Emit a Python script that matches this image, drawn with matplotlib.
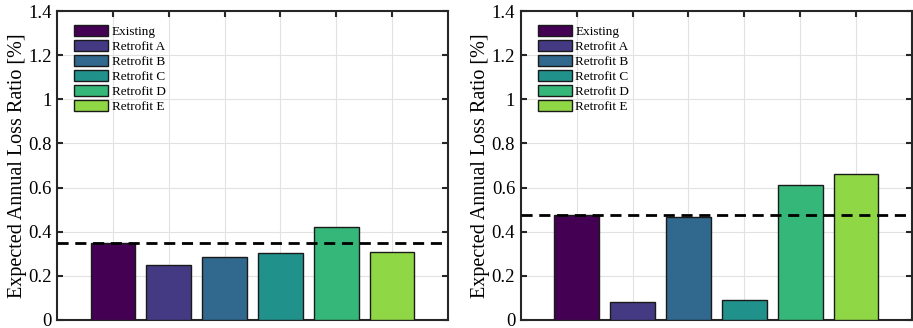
import matplotlib
matplotlib.use("Agg")
import matplotlib.pyplot as plt
from matplotlib.ticker import FormatStrFormatter

plt.rcParams['font.family'] = ['Liberation Serif', 'DejaVu Serif']

# Expected annual loss ratios [%] for each scheme, two sites
schemes = ['Existing', 'Retrofit A', 'Retrofit B', 'Retrofit C', 'Retrofit D', 'Retrofit E']
eal_left = [0.347, 0.248, 0.284, 0.305, 0.423, 0.309]
eal_right = [0.474, 0.082, 0.468, 0.089, 0.610, 0.661]
colors = ['#440154', '#443983', '#31688e', '#21918c', '#35b779', '#8fd744']
yticks = [0, 0.2, 0.4, 0.6, 0.8, 1.0, 1.2, 1.4]

fig = plt.figure(figsize=(9.13, 3.28), dpi=100)
ax_l = fig.add_axes([57 / 913, 8 / 328, 391 / 913, 309 / 328])
ax_r = fig.add_axes([520.7 / 913, 8 / 328, 391.3 / 913, 309 / 328])


def draw_panel(ax, vals):
    xs = range(1, len(vals) + 1)
    for x, v, c, name in zip(xs, vals, colors, schemes):
        ax.bar(x, v, width=0.8, color=c, edgecolor='#1a1a1a', linewidth=1.0,
               label=name, zorder=3)
    # baseline = existing building
    ax.axhline(vals[0], color='black', linestyle='--', linewidth=2,
               dashes=(4, 2.4), zorder=4)

    ax.set_xlim(0, 7)
    ax.set_ylim(0, 1.4)
    ax.set_xticks(list(xs))
    ax.set_xticklabels([])
    ax.set_yticks(yticks)
    ax.yaxis.set_major_formatter(FormatStrFormatter('%g'))
    ax.tick_params(direction='in', top=True, right=True, length=4, width=1.5,
                   color='#262626', labelsize=13.5, pad=4)
    ax.grid(True, color='#e2e2e2', linewidth=0.8, zorder=0)
    ax.set_axisbelow(True)
    for s in ax.spines.values():
        s.set_linewidth(1.5)
        s.set_color('#262626')
    ax.set_ylabel('Expected Annual Loss Ratio [%]', fontsize=14.5, labelpad=1)

    ax.legend(loc='upper left', bbox_to_anchor=(0.0435, 0.955), frameon=False,
              fontsize=9.5, handlelength=2.6, handleheight=0.95,
              handletextpad=0.25, labelspacing=0.13, borderaxespad=0,
              borderpad=0)


draw_panel(ax_l, eal_left)
draw_panel(ax_r, eal_right)

fig.savefig('out.png', dpi=100)
